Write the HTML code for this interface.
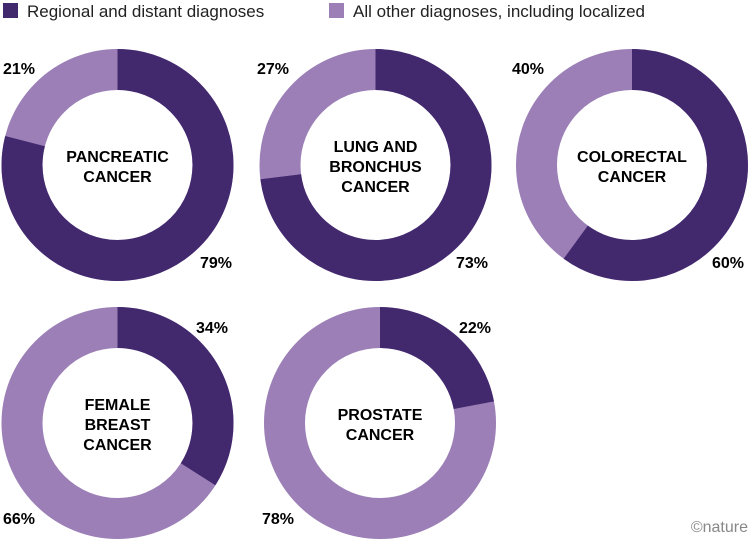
<!DOCTYPE html><html><head><style>
body{margin:0;background:#fff;width:751px;height:543px;overflow:hidden;font-family:"Liberation Sans",sans-serif}
</style></head><body>
<svg width="751" height="543" xmlns="http://www.w3.org/2000/svg" font-family="Liberation Sans, sans-serif">
<rect x="3" y="3" width="15" height="15" fill="#42296e"/>
<text x="27" y="17" font-size="17" fill="#222">Regional and distant diagnoses</text>
<rect x="329" y="3" width="15" height="15" fill="#9b7fb6"/>
<text x="353" y="17" font-size="17" fill="#222">All other diagnoses, including localized</text>
<g fill="none" stroke-width="41">
<g transform="translate(117.5,165) rotate(-90)"><circle r="95.5" stroke="#9b7fb6"/><circle r="95.5" stroke="#42296e" stroke-dasharray="474.04 1000"/></g>
<g transform="translate(375.5,165) rotate(-90)"><circle r="95.5" stroke="#9b7fb6"/><circle r="95.5" stroke="#42296e" stroke-dasharray="438.03 1000"/></g>
<g transform="translate(632,165) rotate(-90)"><circle r="95.5" stroke="#9b7fb6"/><circle r="95.5" stroke="#42296e" stroke-dasharray="360.03 1000"/></g>
<g transform="translate(117.5,423) rotate(-90)"><circle r="95.5" stroke="#9b7fb6"/><circle r="95.5" stroke="#42296e" stroke-dasharray="204.02 1000"/></g>
<g transform="translate(380,423) rotate(-90)"><circle r="95.5" stroke="#9b7fb6"/><circle r="95.5" stroke="#42296e" stroke-dasharray="132.01 1000"/></g>
</g>
<g font-size="16" font-weight="900" fill="#000" text-anchor="middle">
<text x="117.5" y="162">PANCREATIC</text><text x="117.5" y="182">CANCER</text>
<text x="375.5" y="152">LUNG AND</text><text x="375.5" y="172">BRONCHUS</text><text x="375.5" y="192">CANCER</text>
<text x="632" y="162">COLORECTAL</text><text x="632" y="182">CANCER</text>
<text x="117.5" y="410">FEMALE</text><text x="117.5" y="430">BREAST</text><text x="117.5" y="450">CANCER</text>
<text x="380" y="420">PROSTATE</text><text x="380" y="440">CANCER</text>
</g>
<g font-size="16" font-weight="bold" fill="#000">
<text x="3" y="74">21%</text><text x="200" y="268">79%</text>
<text x="257" y="74">27%</text><text x="456" y="268">73%</text>
<text x="512" y="74">40%</text><text x="712" y="268">60%</text>
<text x="196" y="333">34%</text><text x="3" y="524">66%</text>
<text x="459" y="333">22%</text><text x="262" y="524">78%</text>
</g>
<text x="748" y="532" font-size="16" fill="#888" text-anchor="end">©nature</text>
</svg>
</body></html>
